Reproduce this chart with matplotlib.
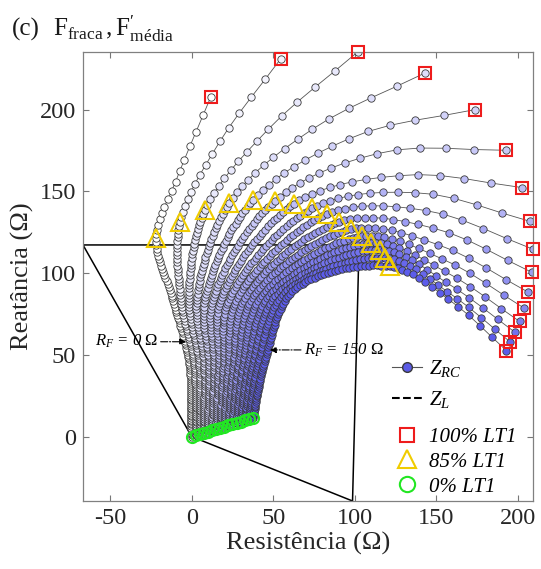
import numpy as np
import matplotlib
matplotlib.use('Agg')
import matplotlib.pyplot as plt
from matplotlib.lines import Line2D

plt.rcParams['font.family'] = 'Liberation Serif'
plt.rcParams['mathtext.fontset'] = 'custom'
plt.rcParams['mathtext.rm'] = 'Liberation Serif'
plt.rcParams['mathtext.it'] = 'Liberation Serif:italic'
plt.rcParams['axes.unicode_minus'] = False

# fault resistance of each trajectory (ohm)
rf_ohm = [0, 10, 20, 30, 40, 50, 60, 70, 80, 90, 100, 110, 120, 130, 140, 150]

# apparent impedance at 0 % of LT1 (R, X)
z0_r = [0, 2.5, 5, 7.5, 10, 12.5, 15, 17.5, 20, 22.5, 25, 27.5, 30, 32.5, 35, 37.5]
z0_x = [0, 0.8, 1.5, 2.3, 3.1, 3.8, 4.6, 5.4, 6.1, 6.9, 7.7, 8.4, 9.2, 10.0, 10.7, 11.5]

# points along the lower part of each trajectory
za_r = [-1.5, 1.5, 4.6, 7.6, 10.6, 13.7, 16.7, 19.7, 22.7, 25.8, 28.8, 31.8, 34.9, 37.9, 40.9, 44.5]
za_x = [45, 45, 45, 45, 45, 45, 45, 45, 45, 45, 45, 45, 45, 45, 45, 45]
zb_r = [-11.5, -6.6, -1.7, 3.2, 8.1, 13.0, 17.9, 22.8, 27.7, 32.6, 37.5, 42.4, 47.3, 52.2, 57.1, 63.0]
zb_x = [83.5, 83.5, 83.5, 83.5, 83.5, 83.5, 83.5, 83.5, 84, 84.5, 85, 85.5, 86, 87, 88, 90]

# apparent impedance at 85 % of LT1
z85_r = [-21.9, -7.2, 8.1, 23.0, 37.7, 51.0, 62.7, 73.7, 82.7, 90.4, 97.4, 104.1, 110.2, 115.3, 118.7, 121.4]
z85_x = [121.4, 131.0, 138.4, 142.9, 144.9, 144.3, 142.4, 139.5, 136.0, 131.4, 126.8, 122.4, 118.4, 114.3, 109.3, 104.1]

# points between 85 % and 100 %
zc_r = [-9, 17, 47, 74, 101, 118, 133, 140, 145, 150, 152, 155, 157, 158, 159, 160]
zc_x = [158, 180, 188, 188, 184, 174, 160, 149, 138, 127, 117, 108, 100, 93, 87, 82]

# apparent impedance at 100 % of LT1
z100_r = [11.8, 54.7, 101.7, 143.3, 173.8, 192.8, 202.4, 207.5, 209.2, 208.4, 206.1, 203.7, 201.0, 198.0, 195.3, 192.9]
z100_x = [207.9, 231.2, 235.2, 222.5, 200.0, 175.1, 152.3, 131.6, 114.6, 100.5, 88.4, 78.6, 70.4, 63.9, 57.8, 52.6]

# quadrilateral zone 1 characteristic
zone_r = [0, 98.6, 102.6, -66.6, 0]
zone_x = [0, -39.4, 117.2, 117.2, 0]

n_a, n_b = 85, 15          # 1 % steps: 0-85 % and 85-100 %


def catmull_rom(pts, n_seg=80):
    pts = np.asarray(pts, float)
    p = np.vstack([2 * pts[0] - pts[1], pts, 2 * pts[-1] - pts[-2]])
    out = []
    for i in range(1, len(p) - 2):
        p0, p1, p2, p3 = p[i - 1], p[i], p[i + 1], p[i + 2]
        t0 = 0.0
        t1 = t0 + np.linalg.norm(p1 - p0) ** 0.5
        t2 = t1 + np.linalg.norm(p2 - p1) ** 0.5
        t3 = t2 + np.linalg.norm(p3 - p2) ** 0.5
        t = np.linspace(t1, t2, n_seg, endpoint=False)[:, None]
        a1 = (t1 - t) / (t1 - t0) * p0 + (t - t0) / (t1 - t0) * p1
        a2 = (t2 - t) / (t2 - t1) * p1 + (t - t1) / (t2 - t1) * p2
        a3 = (t3 - t) / (t3 - t2) * p2 + (t - t2) / (t3 - t2) * p3
        b1 = (t2 - t) / (t2 - t0) * a1 + (t - t0) / (t2 - t0) * a2
        b2 = (t3 - t) / (t3 - t1) * a2 + (t - t1) / (t3 - t1) * a3
        out.append((t2 - t) / (t2 - t1) * b1 + (t - t1) / (t2 - t1) * b2)
    out.append(pts[-1][None])
    return np.vstack(out)


def steps(n, growth):
    w = growth ** (np.arange(n) / (n - 1))
    return np.concatenate([[0], np.cumsum(w)]) / w.sum()


def trajectory(i, n_seg=80):
    knots = [(z0_r[i], z0_x[i]), (za_r[i], za_x[i]), (zb_r[i], zb_x[i]),
             (z85_r[i], z85_x[i]), (zc_r[i], zc_x[i]), (z100_r[i], z100_x[i])]
    path = catmull_rom(knots, n_seg)
    s = np.concatenate([[0], np.cumsum(np.hypot(*np.diff(path, axis=0).T))])
    s85 = s[3 * n_seg]
    sa = s85 * steps(n_a, 2.5)
    sb = s85 + (s[-1] - s85) * steps(n_b, 5.0)[1:]
    ss = np.concatenate([sa, sb])
    return np.interp(ss, s, path[:, 0]), np.interp(ss, s, path[:, 1])


fig = plt.figure(figsize=(5.41, 5.69), dpi=100)
ax = fig.add_axes([0.1534, 0.1195, 0.8318, 0.7891])

ax.plot(zone_r, zone_x, color='k', lw=1.1, zorder=1)

white = np.array([1.0, 1.0, 1.0])
blue = np.array([0.36, 0.36, 0.92])
for i in range(len(rf_ohm)):
    r, x = trajectory(i)
    fc = white + (blue - white) * i / (len(rf_ohm) - 1)
    ax.plot(r, x, '-', color='#555555', lw=0.6, marker='o', ms=5.3,
            mfc=fc, mec='#3a3a3a', mew=0.6, zorder=2 + i * 0.01)

ax.plot(z0_r, z0_x, 'o', ms=8, mfc='none', mec='#22e622', mew=1.5, zorder=5, clip_on=False)
ax.plot(z85_r, z85_x, '^', ms=13, mfc='none', mec='#f0cc00', mew=1.5, zorder=5, clip_on=False)
ax.plot(z100_r, z100_x, 's', ms=8.5, mfc='none', mec='#ee1c1c', mew=1.5, zorder=5, clip_on=False)

arrow = dict(arrowstyle='-|>', color='k', lw=0.8, ls='-.', mutation_scale=9,
             shrinkA=0, shrinkB=0)
ax.annotate('', xy=(-3.5, 58), xytext=(-19, 58), arrowprops=arrow, zorder=6)
ax.text(-20.5, 58, r'$R_F$ = 0 $\Omega$', ha='right', va='center', fontsize=12,
        style='italic', zorder=6)
ax.annotate('', xy=(48, 53), xytext=(67, 53), arrowprops=arrow, zorder=6)
ax.text(69, 53, r'$R_F$ = 150 $\Omega$', ha='left', va='center', fontsize=12,
        style='italic', zorder=6)

# legend in two blocks: impedance curves, then the LT1 position markers
curve_handles = [
    Line2D([], [], color='#555555', lw=0.8, marker='o', ms=7, mfc='#5b5be6', mec='#3a3a3a'),
    Line2D([], [], color='k', lw=1.5, ls='--'),
]
mark_handles = [
    Line2D([], [], ls='none', marker='s', ms=10, mfc='none', mec='#ee1c1c', mew=1.5),
    Line2D([], [], ls='none', marker='^', ms=13, mfc='none', mec='#f0cc00', mew=1.5),
    Line2D([], [], ls='none', marker='o', ms=11, mfc='none', mec='#22e622', mew=1.5),
]
leg_kw = dict(frameon=False, prop={'size': 15, 'style': 'italic'}, handlelength=1.45,
              handletextpad=0.3, borderaxespad=0, borderpad=0)
leg1 = ax.legend(curve_handles, [r'$Z_{RC}$', r'$Z_L$'], loc='lower left',
                 bbox_to_anchor=(0.687, 0.202), labelspacing=0.5, **leg_kw)
ax.add_artist(leg1)
ax.legend(mark_handles, ['100% LT1', '85% LT1', '0% LT1'], loc='lower left',
          bbox_to_anchor=(0.687, 0.010), labelspacing=0.25, **leg_kw)

ax.set_xlim(-66.6, 209.2)
ax.set_ylim(-39.4, 235.2)
ax.set_xticks([-50, 0, 50, 100, 150, 200])
ax.set_yticks([0, 50, 100, 150, 200])
ax.tick_params(direction='in', length=4, width=0.8, color='#777777', labelsize=17.5,
               pad=5, top=True, right=True, labelcolor='#262626')
for sp in ax.spines.values():
    sp.set_color('#808080')
    sp.set_linewidth(0.9)
ax.set_xlabel('Resistência (Ω)', fontsize=19, color='#262626', labelpad=2)
ax.set_ylabel('Reatância (Ω)', fontsize=19, color='#262626', labelpad=4)

fig.text(12 / 541, 1 - 36 / 569, '(c)', fontsize=18, ha='left', va='baseline', color='#1a1a1a')
fig.text(53 / 541, 1 - 36 / 569, r'$\mathrm{F_{fraca}\,,F^{\prime}_{média}}$', fontsize=18,
         ha='left', va='baseline', color='#1a1a1a')

fig.savefig('out.png', dpi=100)
